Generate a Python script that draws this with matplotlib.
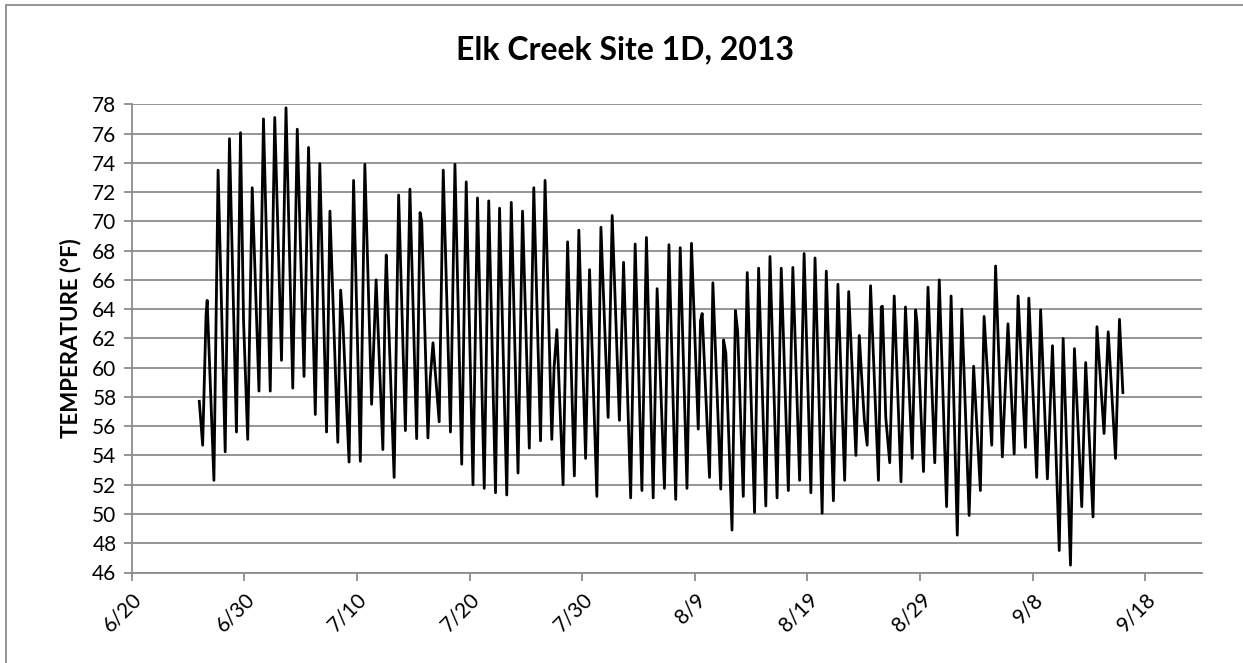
import matplotlib
matplotlib.use("Agg")
import matplotlib.pyplot as plt
from matplotlib.patches import Rectangle

plt.rcParams["font.family"] = ["Lato", "DejaVu Sans"]

# logger readings (daily highs / lows and shoulders), time as days after 6/20
days = [
    6.0, 6.3, 6.6, 6.7, 7.3, 7.67, 8.3, 8.68, 9.3, 9.66, 9.93, 10.3, 10.7,
    11.3, 11.7, 12.3, 12.7, 13.3, 13.7, 14.3, 14.7, 15.3, 15.7, 16.3, 16.7,
    17.3, 17.6, 18.3, 18.55, 18.75, 19.3, 19.7, 20.3, 20.7, 21.3, 21.7,
    22.3, 22.5, 22.6, 23.3, 23.7, 24.3, 24.7, 25.3, 25.6, 25.75, 26.3, 26.5,
    26.75, 27.3, 27.66, 28.3, 28.7, 29.3, 29.7, 30.3, 30.7, 31.3, 31.7,
    32.3, 32.66, 33.3, 33.7, 34.3, 34.7, 35.3, 35.7, 36.3, 36.7, 37.3, 37.5,
    37.75, 38.3, 38.7, 39.3, 39.7, 40.3, 40.65, 41.3, 41.66, 42.3, 42.66,
    43.3, 43.67, 44.3, 44.7, 45.3, 45.7, 46.3, 46.65, 47.3, 47.7, 48.3, 48.7,
    49.3, 49.7, 50.3, 50.5, 50.65, 51.3, 51.6, 52.3, 52.55, 52.75, 53.3,
    53.6, 53.8, 54.3, 54.65, 55.3, 55.66, 56.3, 56.67, 57.3, 57.67, 58.3,
    58.7, 59.3, 59.7, 60.3, 60.67, 61.3, 61.67, 62.3, 62.7, 63.3, 63.66,
    64.3, 64.6, 64.8, 65.05, 65.3, 65.6, 66.3, 66.55, 66.65, 66.95, 67.3,
    67.7, 68.3, 68.7, 69.3, 69.6, 69.72, 70.3, 70.7, 71.3, 71.7, 72.35,
    72.75, 73.3, 73.7, 74.35, 74.75, 75.35, 75.68, 76.36, 76.7, 77.3, 77.8,
    78.35, 78.7, 79.35, 79.65, 80.35, 80.7, 81.3, 81.75, 82.35, 82.7, 83.35,
    83.7, 84.35, 84.7, 85.35, 85.7, 86.33, 86.7, 87.35, 87.7, 88.0,
]
temps = [
    57.7, 54.7, 63.6, 64.6, 52.3, 73.5, 54.25, 75.65, 55.6, 76.06, 63.2, 55.1, 72.3,
    58.4, 77.0, 58.4, 77.1, 60.5, 77.76, 58.6, 76.3, 59.4, 75.05, 56.8, 73.95,
    55.6, 70.7, 54.9, 65.3, 63.1, 53.55, 72.8, 53.6, 73.9, 57.5, 66.0,
    54.4, 64.7, 67.7, 52.5, 71.8, 55.7, 72.2, 55.15, 70.6, 70.0, 55.2, 59.2,
    61.7, 56.3, 73.5, 55.6, 73.9, 53.4, 72.7, 52.0, 71.6, 51.75, 71.4,
    51.45, 70.9, 51.3, 71.3, 52.8, 70.7, 54.5, 72.3, 55.0, 72.8, 55.1, 60.0,
    62.6, 52.0, 68.6, 52.6, 69.4, 53.8, 66.7, 51.2, 69.6, 56.6, 70.4,
    56.4, 67.2, 51.1, 68.45, 51.6, 68.9, 51.1, 65.4, 51.75, 68.4, 51.0, 68.2,
    51.75, 68.5, 55.8, 63.2, 63.7, 52.5, 65.8, 51.7, 61.9, 61.0, 48.9,
    63.9, 62.5, 51.2, 66.5, 50.1, 66.8, 50.55, 67.6, 51.1, 66.8, 51.6,
    66.85, 52.3, 67.8, 51.45, 67.5, 50.05, 66.6, 50.9, 65.7, 52.3, 65.2,
    54.0, 62.2, 59.5, 56.4, 54.7, 65.6, 52.3, 64.15, 64.2, 56.6, 53.5,
    64.9, 52.2, 64.15, 53.8, 63.95, 63.1, 52.9, 65.5, 53.5, 66.0, 50.5,
    64.9, 48.55, 64.0, 49.9, 60.1, 51.6, 63.5, 54.7, 66.95, 53.9, 63.0,
    54.1, 64.9, 54.55, 64.75, 52.5, 63.95, 52.4, 61.5, 47.5, 62.0, 46.5,
    61.3, 50.5, 60.35, 49.8, 62.8, 55.5, 62.45, 53.8, 63.3, 58.3,
]

tick_days = [0, 10, 20, 30, 40, 50, 60, 70, 80, 90]
tick_labels = ["6/20", "6/30", "7/10", "7/20", "7/30", "8/9", "8/19", "8/29", "9/8", "9/18"]

W, H = 1243, 663
fig = plt.figure(figsize=(W / 100, H / 100), dpi=100)
ax = fig.add_axes([131.7 / W, 1 - 572.5 / H, (1201.7 - 131.7) / W, (572.5 - 104.3) / H])

grid_col = "#8c8c8c"
ax.plot(days, temps, color="black", linewidth=2.0, zorder=3)

ax.set_xlim(0, 95)
ax.set_ylim(46, 78)
ax.set_yticks(range(46, 79, 2))
ax.set_xticks(tick_days)
ax.set_xticklabels(tick_labels, rotation=45, ha="right", va="top", rotation_mode="anchor")

ax.grid(True, axis="y", color=grid_col, linewidth=1.3)
ax.set_axisbelow(True)
for side in ["top", "right"]:
    ax.spines[side].set_visible(False)
for side in ["left", "bottom"]:
    ax.spines[side].set_color(grid_col)
    ax.spines[side].set_linewidth(1.3)
ax.tick_params(axis="both", direction="out", length=6, width=1.3, color=grid_col,
               labelsize=15, labelcolor="black")
ax.tick_params(axis="x", pad=6)
ax.tick_params(axis="y", pad=5)

ax.set_ylabel("TEMPERATURE (°F)", fontsize=16, fontweight="bold", labelpad=8)

fig.text(625 / W, 1 - 50 / H, "Elk Creek Site 1D, 2013", fontsize=23,
         fontweight="bold", ha="center", va="center")

# chart area border
fig.patches.append(Rectangle((5.5 / W, -0.1), 1.2, 1.1 - 5.5 / H, transform=fig.transFigure,
                             fill=False, edgecolor=grid_col, linewidth=1.3))

plt.savefig("out.png", dpi=100)
plt.close()
